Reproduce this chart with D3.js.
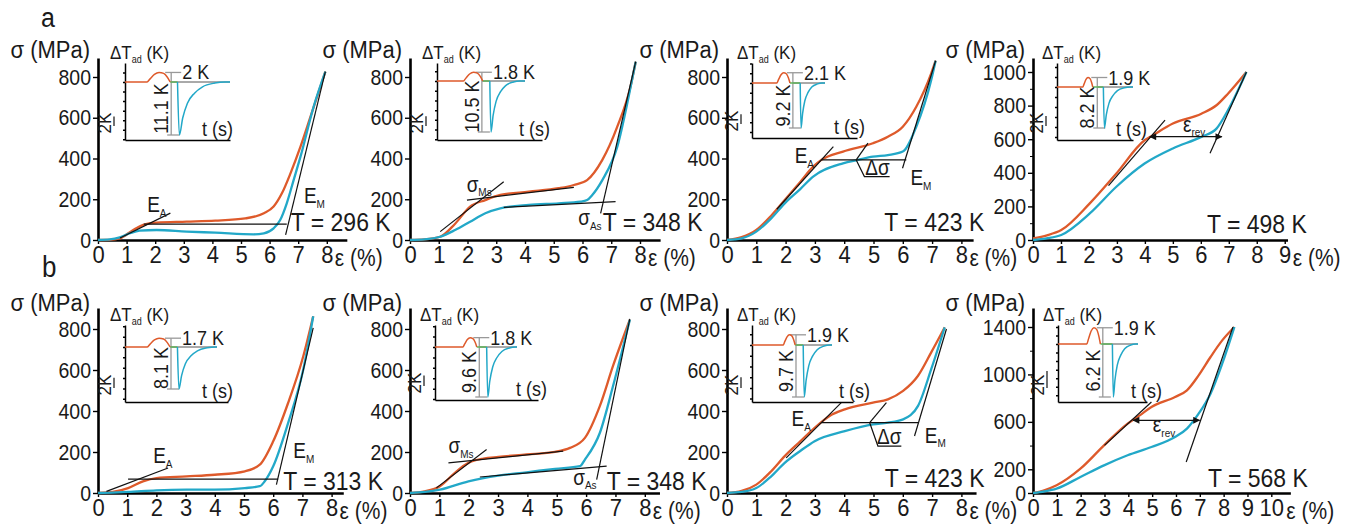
<!DOCTYPE html>
<html>
<head>
<meta charset="utf-8">
<script src="https://cdn.jsdelivr.net/npm/d3@7"></script>
<style>
body { margin: 0; background: #fff; }
svg { display: block; }
text { font-family: "Liberation Sans", Arial, sans-serif; fill: #1a1a1a; }
</style>
</head>
<body>
<svg id="chart" width="1363" height="529"></svg>
<script>
// tick labels
var xTicks8 = [0, 1, 2, 3, 4, 5, 6, 7, 8];
var xTicks9 = [0, 1, 2, 3, 4, 5, 6, 7, 8, 9];
var xTicks10 = [0, 1, 2, 3, 4, 5, 6, 7, 8, 9, 10];
var yTicks800 = [0, 200, 400, 600, 800];
var yTicks1000 = [0, 200, 400, 600, 800, 1000];
var yTicks1400 = [0, 200, 600, 1000, 1400];
var yMinor1000 = [100, 300, 500, 700, 900];
var yMinor1400 = [400, 800, 1200];

var temperatures = ["T = 296 K", "T = 348 K", "T = 423 K", "T = 498 K",
                    "T = 313 K", "T = 348 K", "T = 423 K", "T = 568 K"];

// stress-strain curves: [strain %, stress MPa]; red = loading, cyan = unloading
var loadA1 = [[0,0],[0.4,1],[0.76,8],[1.23,49],[1.58,74],[2.05,85],[3.1,90],[4.1,95],[5.15,106],[5.8,131],[6.14,164],[6.43,229],[6.73,327],[7.08,458],[7.43,605],[7.95,826]];
var unloadA1 = [[0,0],[0.41,3],[0.76,13],[1.11,33],[1.46,46],[2.05,49],[3.1,41],[4.1,36],[5.44,28],[5.8,33],[6.14,57],[6.37,98],[6.6,180],[6.84,294],[7.08,409],[7.54,654],[7.95,826]];
var loadA2 = [[0,0],[0.5,3],[1.05,16],[1.57,80],[2.09,164],[2.62,196],[3.14,221],[4.13,237],[5.17,254],[5.7,270],[6.16,294],[6.69,393],[7.21,556],[7.67,753],[7.85,875]];
var unloadA2 = [[0,0],[0.5,3],[1.05,16],[1.57,49],[2.09,90],[2.62,131],[3.14,155],[4.13,172],[5.17,180],[5.93,188],[6.16,196],[6.34,221],[6.69,294],[7.21,458],[7.6,700],[7.85,875]];
var loadA3 = [[0,0],[0.5,14],[1.0,49],[1.5,118],[1.97,196],[2.5,285],[2.94,360],[3.22,393],[3.96,434],[4.98,475],[5.49,507],[6.0,556],[6.46,654],[6.97,818],[7.12,880]];
var unloadA3 = [[0,0],[0.5,8],[1.0,41],[1.5,105],[1.97,180],[2.5,250],[2.94,311],[3.96,376],[4.47,393],[4.98,409],[5.49,417],[6.0,434],[6.46,556],[6.97,785],[7.12,880]];
var loadA4 = [[0,10],[0.5,28],[1.01,59],[2.03,218],[2.98,396],[3.99,594],[4.29,624],[5.0,693],[6.02,752],[6.56,802],[6.97,871],[7.63,1000]];
var unloadA4 = [[0,0],[0.48,10],[1.01,30],[2.03,158],[2.98,317],[3.99,455],[5.0,545],[6.02,614],[6.56,663],[6.97,772],[7.63,1000]];
var loadB1 = [[0,0],[0.5,5],[1.03,24],[1.54,57],[2.0,73],[3.03,81],[4.0,89],[5.03,106],[5.54,138],[6.0,252],[6.51,439],[7.03,667],[7.37,862]];
var unloadB1 = [[0,0],[0.5,2],[1.03,5],[2.0,13],[3.03,16],[4.0,16],[5.03,24],[5.54,33],[5.71,57],[6.0,130],[6.51,341],[7.03,602],[7.37,862]];
var loadB2 = [[0,0],[0.5,8],[1.02,33],[1.5,95],[1.99,147],[2.5,168],[3.01,176],[3.97,188],[4.94,201],[5.45,220],[5.96,269],[6.47,425],[6.92,621],[7.49,845]];
var unloadB2 = [[0,0],[0.51,5],[1.02,16],[1.99,57],[3.01,85],[3.97,101],[4.94,118],[5.79,131],[5.96,163],[6.47,294],[6.92,523],[7.49,845]];
var loadB3 = [[0,0],[0.5,10],[1.0,41],[1.5,105],[1.97,180],[2.5,252],[2.99,318],[3.5,376],[4.02,408],[4.98,441],[5.49,457],[6.01,498],[6.52,572],[6.97,686],[7.43,808]];
var unloadB3 = [[0,0],[0.5,5],[1.0,24],[1.5,80],[1.97,147],[2.5,205],[2.99,253],[4.02,302],[4.98,335],[5.49,343],[6.01,359],[6.52,425],[6.97,604],[7.43,808]];
var loadB4 = [[0,0],[0.5,25],[0.99,65],[1.99,205],[2.98,402],[3.97,585],[4.48,655],[4.97,725],[5.96,810],[6.46,866],[6.95,992],[7.45,1147],[7.94,1287],[8.45,1400]];
var unloadB4 = [[0,0],[0.49,14],[0.99,37],[1.99,135],[2.98,233],[3.97,318],[4.97,388],[5.96,472],[6.46,543],[6.95,669],[7.45,838],[7.94,1091],[8.45,1400]];

// black construction lines (polylines in strain/stress)
var linesA1 = [[[0.77,10],[2.53,132]], [[1.6,78],[6.6,78]], [[6.56,25],[7.95,826]]];
var linesA2 = [[[1.05,41],[3.26,286]], [[1.98,196],[5.7,258]], [[3.26,160],[7.15,188]], [[6.63,131],[7.85,875]]];
var linesA3 = [[[1.7,151],[3.63,458]], [[3.22,393],[6.12,393]], [[4.41,393],[4.81,475]], [[4.41,393],[4.69,311],[5.55,311]], [[5.99,352],[7.12,880]]];
var linesA4 = [[[2.7,324],[4.72,714]], [[6.33,516],[7.63,1000]]];
var linesB1 = [[[0.29,8],[2.4,122]], [[1.03,68],[6.17,68]], [[6.11,41],[7.37,805]]];
var linesB2 = [[[0.9,25],[2.61,212]], [[1.31,147],[5.22,204]], [[2.38,78],[6.7,131]], [[6.36,65],[7.49,849]]];
var linesB3 = [[[2.02,171],[3.9,441]], [[3.22,343],[6.52,343]], [[4.87,343],[5.44,441]], [[4.87,343],[5.15,229],[5.95,229]], [[6.4,278],[7.49,800]]];
var linesB4 = [[[3.0,402],[4.97,767]], [[6.43,261],[8.39,1400]]];

// double arrows for the reversible strain
var arrowsA4 = [[4.18,615],[6.75,615]];
var arrowsB4 = [[4.2,613],[6.99,613]];

// annotation labels: [main, subscript, strain, stress]
var notesA1 = [["E","A",1.72,137], ["E","M",7.2,180]];
var notesA2 = [["σ","Ms",1.97,237], ["σ","As",5.85,74]];
var notesA3 = [["E","A",2.31,378], ["E","M",6.26,270], ["Δσ","",4.72,320]];
var notesA4 = [["ε","rev",5.36,645]];
var notesB1 = [["E","A",1.89,146], ["E","M",6.69,170]];
var notesB2 = [["σ","Ms",1.31,196], ["σ","As",5.56,41]];
var notesB3 = [["E","A",2.2,327], ["E","M",6.75,245], ["Δσ","",5.12,240]];
var notesB4 = [["ε","rev",5.03,514]];
var tempAt = [[6.74,44], [6.7,44], [5.37,46], [6.22,40], [6.34,14], [6.7,14], [5.38,31], [7.34,48]];

// insets: adiabatic temperature change (K)
var heatPeak = [2, 1.8, 2.1, 1.9, 1.7, 1.8, 1.9, 1.9];
var coolDip = [11.1, 10.5, 9.2, 8.2, 8.1, 9.6, 9.7, 6.2];
// times (0-100 across the trace): heating start, heating end, release, recovered, marker
var insetTimes = [[21,43,50,95,44], [30,52,60,94,51], [34,52,66,96,56], [34,47,61,96,53],
                  [24,49,57,98,50], [34,51,63,98,54], [39,54,64,97,55], [36,53,68,97,56]];
// read shapes of the pulses (fraction of event time, fraction of amplitude)
var heatShape = [[0,0],[0.12,0.3],[0.32,0.8],[0.52,1],[0.72,0.9],[0.88,0.5],[1,0]];
var coolShape = [[0,0],[0.04,-1],[0.11,-0.68],[0.21,-0.4],[0.36,-0.21],[0.53,-0.09],[0.79,-0.02],[1,0]];

var loads = [loadA1, loadA2, loadA3, loadA4, loadB1, loadB2, loadB3, loadB4];
var unloads = [unloadA1, unloadA2, unloadA3, unloadA4, unloadB1, unloadB2, unloadB3, unloadB4];
var guides = [linesA1, linesA2, linesA3, linesA4, linesB1, linesB2, linesB3, linesB4];
var notes = [notesA1, notesA2, notesA3, notesA4, notesB1, notesB2, notesB3, notesB4];
var arrows = [null, null, null, arrowsA4, null, null, null, arrowsB4];
var xTickSets = [xTicks8, xTicks8, xTicks8, xTicks9, xTicks8, xTicks8, xTicks8, xTicks10];
var yTickSets = [yTicks800, yTicks800, yTicks800, yTicks1000, yTicks800, yTicks800, yTicks800, yTicks1400];
var yMinorSets = [null, null, null, yMinor1000, null, null, null, yMinor1400];

// layout in pixels
var frames = [
    {x0: 98,   unit: 28.6,  xEnd: 8.7,  y0: 240, yRef: 800,  yRefPx: 77,  top: 58},
    {x0: 410,  unit: 28.75, xEnd: 8.7,  y0: 240, yRef: 800,  yRefPx: 77,  top: 58},
    {x0: 727,  unit: 29.3,  xEnd: 8.4,  y0: 240, yRef: 800,  yRefPx: 77,  top: 58},
    {x0: 1033, unit: 27.97, xEnd: 9.1,  y0: 240, yRef: 1000, yRefPx: 72,  top: 58},
    {x0: 98,   unit: 29.2,  xEnd: 8.4,  y0: 493, yRef: 800,  yRefPx: 329, top: 308},
    {x0: 410,  unit: 29.35, xEnd: 8.5,  y0: 493, yRef: 800,  yRefPx: 329, top: 308},
    {x0: 727,  unit: 29.3,  xEnd: 8.5,  y0: 493, yRef: 800,  yRefPx: 329, top: 308},
    {x0: 1033, unit: 23.83, xEnd: 10.8, y0: 493, yRef: 1400, yRefPx: 327, top: 308}
];
var insetBoxes = [
    {left: 125,  traceEnd: 230,  right: 230,  top: 63,  bottom: 140, base: 82,  dip: 135, tLab: 233},
    {left: 437,  traceEnd: 525,  right: 542,  top: 63,  bottom: 140, base: 81,  dip: 132, tLab: 550},
    {left: 752,  traceEnd: 825,  right: 857,  top: 63,  bottom: 138, base: 83,  dip: 128, tLab: 865},
    {left: 1057, traceEnd: 1133, right: 1133, top: 63,  bottom: 140, base: 87,  dip: 128, tLab: 1147},
    {left: 125,  traceEnd: 217,  right: 228,  top: 325, bottom: 402, base: 347, dip: 389, tLab: 233},
    {left: 435,  traceEnd: 517,  right: 538,  top: 325, bottom: 400, base: 347, dip: 397, tLab: 547},
    {left: 752,  traceEnd: 832,  right: 853,  top: 325, bottom: 402, base: 345, dip: 397, tLab: 870},
    {left: 1058, traceEnd: 1138, right: 1147, top: 325, bottom: 402, base: 344, dip: 397, tLab: 1162}
];

var RED = "#de5a2b", CYAN = "#22a8c8", GREY = "#999999", GREEN = "#5fb35a";
var STRETCH = 1.12;

var svg = d3.select("#chart");

var defs = svg.append("defs");
["arrowEnd", "arrowStart"].forEach(function(id, k) {
    defs.append("marker")
        .attr("id", id)
        .attr("viewBox", "0 0 10 10")
        .attr("refX", k === 0 ? 9 : 1).attr("refY", 5)
        .attr("markerWidth", 9).attr("markerHeight", 7)
        .attr("markerUnits", "userSpaceOnUse")
        .attr("orient", "auto")
        .append("path")
        .attr("d", k === 0 ? "M0,0 L10,5 L0,10 z" : "M10,0 L0,5 L10,10 z")
        .attr("fill", "#111");
});

var putText = function(g, x, y, str, size, anchor, rot) {
    var tr = "translate(" + x + "," + y + ")" + (rot ? " rotate(" + rot + ")" : "") + " scale(1," + STRETCH + ")";
    return g.append("text")
        .attr("transform", tr)
        .attr("font-size", size)
        .attr("text-anchor", anchor || "start")
        .text(str);
};

var putSub = function(g, x, y, main, sub, size, tail) {
    var t = g.append("text")
        .attr("transform", "translate(" + x + "," + y + ") scale(1," + STRETCH + ")")
        .attr("font-size", size);
    t.append("tspan").text(main);
    if (sub) t.append("tspan").attr("font-size", Math.round(size * 0.55)).attr("dy", size * 0.22).text(sub);
    if (tail) t.append("tspan").attr("dy", -size * 0.22).text(tail);
    return t;
};

// row letters
putText(svg, 41, 27, "a", 25);
putText(svg, 42, 277, "b", 26);

frames.forEach(function(f, i) {
    var g = svg.append("g");
    var x = d3.scaleLinear().domain([0, f.xEnd]).range([f.x0, f.x0 + f.unit * f.xEnd]);
    var yRefScale = d3.scaleLinear().domain([0, f.yRef]).range([f.y0, f.yRefPx]);
    var y = d3.scaleLinear().domain([0, yRefScale.invert(f.top)]).range([f.y0, f.top]);

    // axes
    var xa = g.append("g")
        .attr("transform", "translate(0," + f.y0 + ")")
        .call(d3.axisBottom(x).tickValues(xTickSets[i]).tickSize(4).tickSizeOuter(0));
    xa.select(".domain").attr("stroke-width", 2.6);
    xa.selectAll(".tick line").attr("stroke-width", 1.4);
    xa.selectAll(".tick text")
        .attr("y", null).attr("dy", null)
        .attr("font-size", 22)
        .attr("transform", "translate(0,23) scale(1," + STRETCH + ")");

    var ya = g.append("g")
        .attr("transform", "translate(" + f.x0 + ",0)")
        .call(d3.axisLeft(y).tickValues(yTickSets[i]).tickSize(5).tickSizeOuter(0).tickFormat(d3.format("d")));
    ya.select(".domain").attr("stroke-width", 2.6);
    ya.selectAll(".tick line").attr("stroke-width", 1.4);
    ya.selectAll(".tick text")
        .attr("x", null).attr("dy", null)
        .attr("font-size", 19.5)
        .attr("transform", "translate(-7,7) scale(1," + STRETCH + ")");
    if (yMinorSets[i]) {
        g.append("g")
            .attr("transform", "translate(" + f.x0 + ",0)")
            .call(d3.axisLeft(y).tickValues(yMinorSets[i]).tickSize(3).tickFormat(""))
            .select(".domain").remove();
    }

    putText(g, f.x0 - 8, f.top + (i < 4 ? 0 : 3), "σ (MPa)", 22, "end");
    var lastTick = xTickSets[i][xTickSets[i].length - 1];
    putText(g, x(lastTick) + 1 + String(lastTick).length * 7, f.y0 + 26, "ε (%)", 21);

    // curves
    var line = d3.line()
        .x(function(d) { return x(d[0]); })
        .y(function(d) { return y(d[1]); })
        .curve(d3.curveMonotoneX);
    g.append("path").datum(loads[i])
        .attr("d", line).attr("fill", "none")
        .attr("stroke", RED).attr("stroke-width", 2.3);
    g.append("path").datum(unloads[i])
        .attr("d", line).attr("fill", "none")
        .attr("stroke", CYAN).attr("stroke-width", 2.3);

    var straight = d3.line()
        .x(function(d) { return x(d[0]); })
        .y(function(d) { return y(d[1]); });
    g.selectAll("path.guide").data(guides[i]).enter()
        .append("path").attr("class", "guide")
        .attr("d", straight).attr("fill", "none")
        .attr("stroke", "#111").attr("stroke-width", 1.2);
    if (arrows[i]) {
        g.append("path").datum(arrows[i])
            .attr("d", straight).attr("fill", "none")
            .attr("stroke", "#111").attr("stroke-width", 1.3)
            .attr("marker-start", "url(#arrowStart)")
            .attr("marker-end", "url(#arrowEnd)");
    }

    notes[i].forEach(function(n) {
        putSub(g, x(n[2]), y(n[3]), n[0], n[1], 19);
    });
    putText(g, x(tempAt[i][0]), y(tempAt[i][1]), temperatures[i], 23);

    // inset
    var b = insetBoxes[i];
    var ts = insetTimes[i];
    var ig = svg.append("g");
    var tx = d3.scaleLinear().domain([0, 100]).range([b.left, b.traceEnd]);
    var ty = d3.scaleLinear().domain([-coolDip[i], 0]).range([b.dip, b.base]);
    var tyAxis = ty.copy().domain([ty.invert(b.bottom), ty.invert(b.top)]).range([b.bottom, b.top]);

    ig.append("g").attr("transform", "translate(" + b.left + ",0)")
        .call(d3.axisLeft(tyAxis).ticks(8).tickSize(2).tickSizeOuter(0).tickFormat(""))
        .selectAll("path,line").attr("stroke-width", 1.5);
    var txAxis = tx.copy().domain([0, tx.invert(b.right)]).range([b.left, b.right]);
    ig.append("g").attr("transform", "translate(0," + b.bottom + ")")
        .call(d3.axisBottom(txAxis).tickValues([]).tickSizeOuter(0))
        .select(".domain").attr("stroke-width", 1.5);

    var heatPts = [[0, 0], [ts[0], 0]].concat(heatShape.map(function(s) {
        return [ts[0] + s[0] * (ts[1] - ts[0]), s[1] * heatPeak[i]];
    }));
    var coolPts = coolShape.map(function(s) {
        return [ts[2] + s[0] * (ts[3] - ts[2]), s[1] * coolDip[i]];
    }).concat([[100, 0]]);
    var tline = d3.line()
        .x(function(d) { return tx(d[0]); })
        .y(function(d) { return ty(d[1]); })
        .curve(d3.curveMonotoneX);

    var gx = tx(ts[4]);
    var peakY = ty(heatPeak[i]);
    var dipY = ty(-coolDip[i]);
    ig.append("line").attr("x1", gx).attr("x2", b.traceEnd).attr("y1", ty(0)).attr("y2", ty(0))
        .attr("stroke", "#555").attr("stroke-width", 1);
    ig.append("line").attr("x1", gx).attr("x2", gx).attr("y1", peakY).attr("y2", dipY)
        .attr("stroke", GREY).attr("stroke-width", 1.3);
    ig.append("line").attr("x1", gx - 6).attr("x2", gx + 10).attr("y1", peakY).attr("y2", peakY)
        .attr("stroke", GREY).attr("stroke-width", 1.3);
    ig.append("line").attr("x1", gx - 4).attr("x2", gx + 8).attr("y1", dipY).attr("y2", dipY)
        .attr("stroke", GREY).attr("stroke-width", 1.3);

    ig.append("path").datum([[ts[1], 0], [ts[2], 0]]).attr("d", tline)
        .attr("fill", "none").attr("stroke", GREEN).attr("stroke-width", 1.5);
    ig.append("path").datum(heatPts).attr("d", tline)
        .attr("fill", "none").attr("stroke", RED).attr("stroke-width", 1.5);
    ig.append("path").datum(coolPts).attr("d", tline)
        .attr("fill", "none").attr("stroke", CYAN).attr("stroke-width", 1.5);

    putText(ig, gx + 11, peakY + 7, heatPeak[i] + " K", 18);
    putText(ig, gx - 3, (ty(0) + dipY) / 2, coolDip[i].toFixed(1) + " K", 18, "middle", -90);
    // 2 K scale bar
    var barLen = ty(-2) - ty(0);
    ig.append("line").attr("x1", b.left - 11).attr("x2", b.left - 11)
        .attr("y1", b.bottom - 14).attr("y2", b.bottom - 14 - barLen)
        .attr("stroke", "#111").attr("stroke-width", 1.2);
    putText(ig, b.left - 14, b.bottom - 17, "2K", 17, "middle", -90);
    putSub(ig, b.left - 15, b.top - 4, "ΔT", "ad", 17, " (K)");
    putText(ig, b.tLab, b.bottom - 4, "t (s)", 18, "end");
});
</script>
</body>
</html>
